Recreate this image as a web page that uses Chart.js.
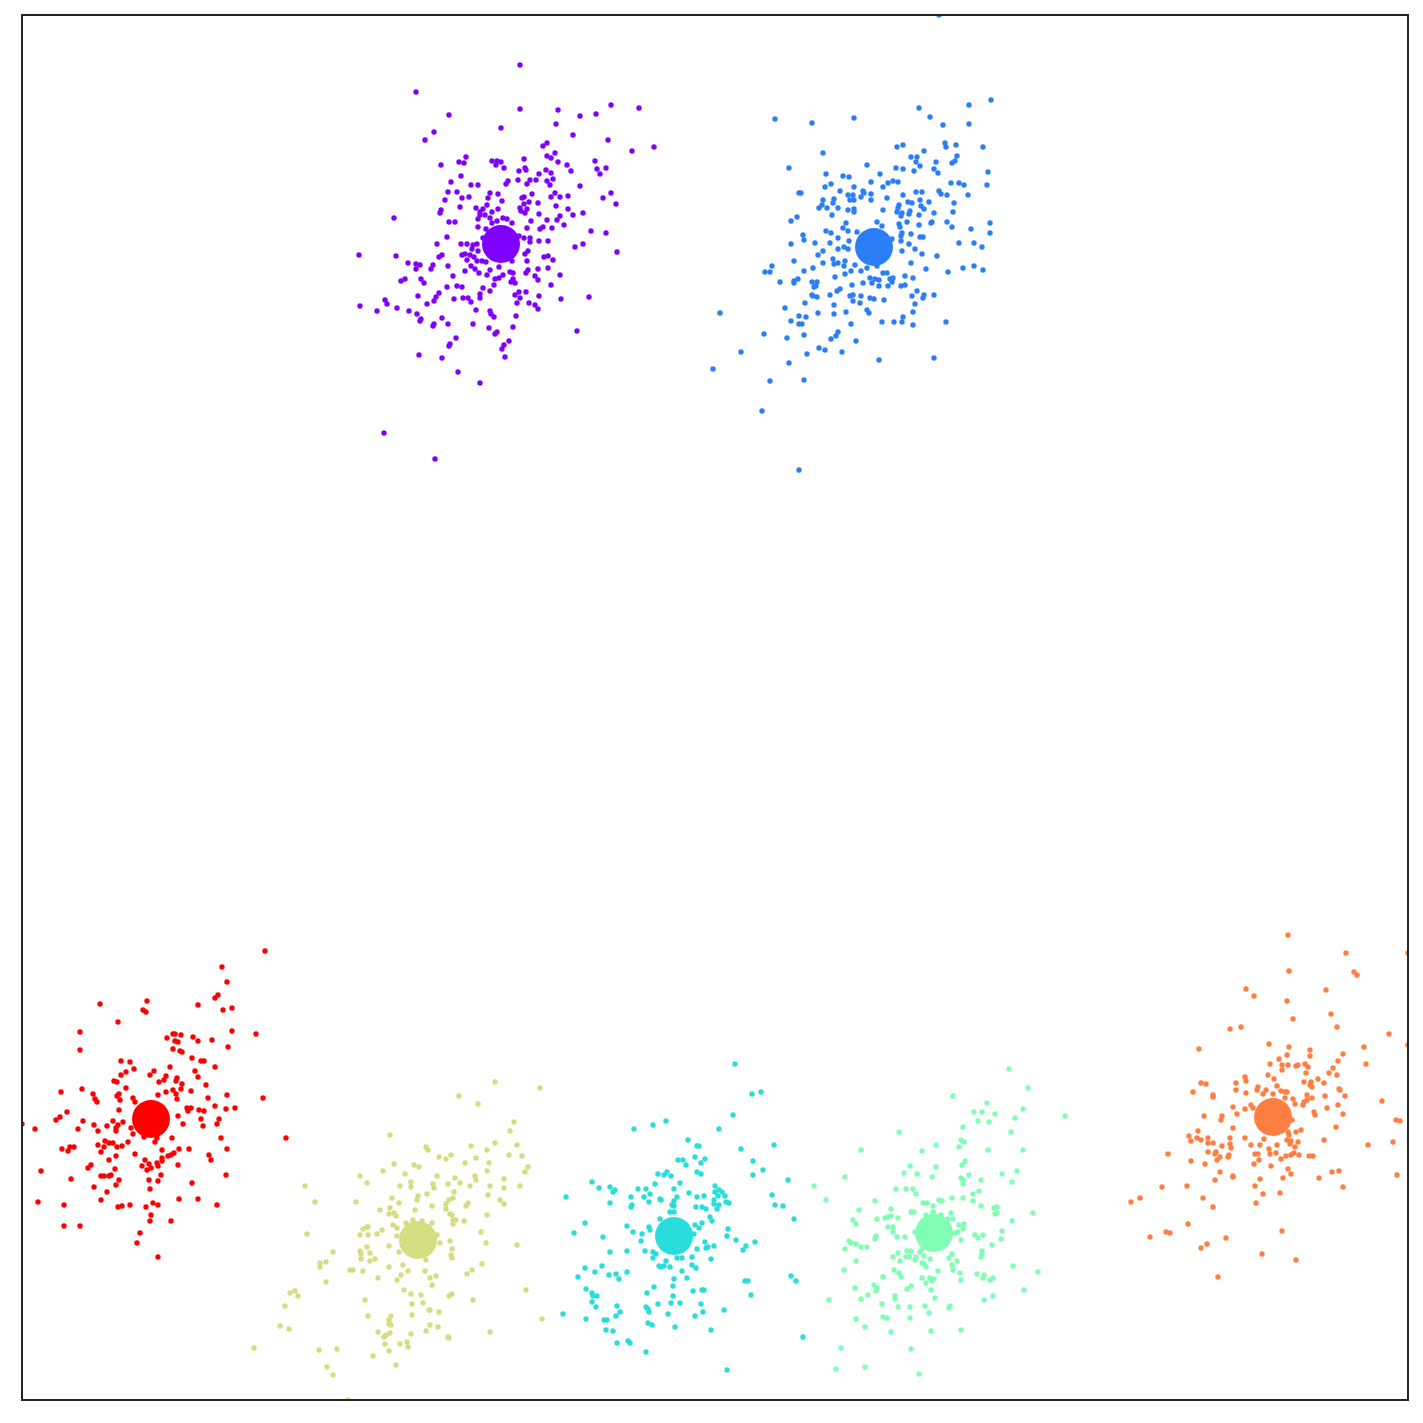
<!DOCTYPE html>
<html>
<head>
<meta charset="utf-8">
<style>
  html, body { margin: 0; padding: 0; background: #fff; }
  canvas { display: block; }
</style>
<script src="https://cdn.jsdelivr.net/npm/chart.js@4/dist/chart.umd.min.js"></script>
</head>
<body>
<canvas id="clusters" width="1423" height="1423"></canvas>
<script>
// values, one list of [x, y] per cluster
const purplePoints = [[498,1335],[394,1308],[427,1285],[412,1268],[403,1260],[498,1291],[536,1290],[558,1284],[574,1286],[589,1295],[617,1292],[534,1276],[479,1272],[551,1265],[586,1260],[632,1253],[610,1249],[525,1257],[521,1254],[533,1247],[525,1244],[529,1242],[536,1238],[545,1235],[549,1229],[573,1239],[575,1231],[584,1232],[578,1226],[419,1235],[437,1238],[442,1237],[444,1243],[470,1239],[475,1239],[479,1238],[474,1235],[482,1232],[502,1241],[497,1229],[503,1232],[504,1230],[524,1230],[517,1226],[529,1227],[531,1221],[525,1219],[528,1215],[514,1220],[508,1220],[505,1216],[496,1220],[486,1219],[484,1216],[439,1224],[429,1218],[449,1215],[456,1215],[558,1214],[426,1208],[435,1208],[440,1202],[447,1203],[423,1200],[468,1207],[476,1206],[466,1202],[480,1199],[500,1202],[502,1203],[510,1206],[529,1203],[533,1207],[538,1203],[546,1204],[589,1207],[581,1202],[594,1196],[507,1198],[502,1196],[516,1197],[534,1194],[438,1193],[465,1195],[476,1191],[498,1192],[499,1189],[505,1191],[503,1187],[546,1191],[454,1192],[461,1191],[458,1188],[419,1190],[418,1187],[470,1188],[517,1186],[551,1185],[561,1187],[372,1182],[456,1181],[458,1185],[463,1185],[468,1182],[481,1182],[485,1181],[490,1177],[475,1179],[470,1177],[427,1178],[433,1178],[509,1179],[525,1180],[538,1184],[535,1180],[542,1175],[505,1172],[518,1171],[521,1173],[530,1172],[456,1173],[464,1171],[569,1169],[584,1167],[425,1163],[461,1162],[497,1164],[502,1162],[508,1162],[508,1158],[517,1159],[526,1159],[561,1156],[553,1153],[595,1148],[415,1156],[439,1156],[445,1156],[455,1156],[451,1155],[450,1151],[456,1149],[337,1145],[374,1144],[386,1137],[394,1136],[398,1135],[394,1131],[411,1135],[409,1131],[417,1143],[420,1145],[426,1134],[440,1145],[443,1146],[448,1145],[452,1143],[445,1140],[455,1139],[460,1139],[464,1138],[449,1134],[453,1131],[443,1129],[468,1130],[457,1127],[465,1125],[431,1124],[477,1133],[490,1139],[503,1146],[506,1149],[505,1139],[522,1143],[526,1144],[531,1140],[526,1132],[516,1131],[506,1130],[504,1127],[488,1128],[491,1127],[481,1125],[477,1122],[473,1121],[491,1121],[489,1118],[493,1117],[513,1124],[516,1120],[538,1125],[529,1115],[379,1119],[383,1121],[399,1121],[402,1117],[425,1113],[435,1114],[440,1113],[461,1112],[472,1115],[468,1109],[396,1104],[417,1107],[414,1103],[412,1099],[405,1096],[432,1101],[441,1102],[446,1102],[449,1098],[458,1106],[458,1102],[493,1105],[497,1108],[504,1108],[498,1102],[495,1097],[507,1097],[517,1104],[539,1101],[567,1103],[363,1100],[365,1096],[338,1094],[355,1089],[375,1092],[387,1089],[395,1086],[399,1081],[398,1079],[420,1082],[426,1076],[412,1076],[411,1074],[454,1090],[451,1076],[468,1089],[469,1086],[472,1083],[513,1095],[516,1091],[494,1084],[491,1073],[467,1072],[475,1068],[473,1066],[555,1069],[434,1062],[428,1056],[427,1054],[487,1059],[482,1055],[480,1051],[397,1045],[420,1042],[483,1043],[436,1028],[458,1017],[362,967],[413,941]];
const bluePoints = [[917,1385],[969,1300],[947,1295],[897,1292],[908,1283],[921,1275],[947,1276],[753,1281],[790,1277],[832,1282],[801,1247],[923,1257],[924,1253],[934,1255],[961,1253],[875,1253],[881,1255],[902,1249],[889,1243],[895,1243],[894,1238],[898,1234],[914,1238],[935,1244],[933,1239],[930,1237],[767,1232],[845,1235],[874,1232],[881,1231],[892,1229],[912,1231],[916,1227],[966,1228],[804,1226],[821,1224],[827,1223],[858,1226],[849,1218],[866,1217],[871,1219],[876,1218],[861,1213],[929,1217],[937,1217],[942,1215],[965,1215],[809,1216],[803,1213],[832,1213],[818,1209],[841,1209],[842,1207],[849,1206],[777,1207],[779,1207],[826,1205],[831,1205],[839,1203],[881,1205],[894,1208],[900,1208],[917,1209],[919,1206],[925,1205],[946,1205],[865,1202],[849,1200],[828,1200],[832,1200],[801,1200],[812,1201],[811,1197],[800,1195],[797,1192],[805,1192],[816,1192],[826,1190],[832,1191],[832,1188],[861,1190],[886,1198],[890,1197],[898,1200],[907,1198],[932,1197],[877,1195],[876,1192],[899,1194],[902,1191],[875,1188],[880,1187],[879,1184],[888,1189],[887,1186],[897,1185],[912,1187],[931,1188],[810,1185],[775,1183],[769,1179],[824,1177],[855,1178],[860,1174],[885,1178],[877,1176],[878,1173],[897,1175],[909,1177],[910,1178],[925,1178],[930,1173],[968,1177],[949,1171],[968,1167],[821,1172],[826,1169],[804,1169],[809,1167],[781,1165],[782,1160],[816,1162],[835,1168],[880,1167],[889,1166],[898,1163],[901,1163],[879,1164],[879,1159],[870,1161],[769,1156],[793,1157],[808,1157],[827,1159],[887,1156],[937,1157],[952,1157],[960,1153],[822,1153],[826,1151],[816,1151],[801,1149],[796,1145],[880,1149],[893,1151],[900,1146],[915,1144],[772,1139],[811,1141],[823,1139],[801,1137],[812,1136],[816,1137],[822,1134],[833,1135],[750,1134],[743,1128],[748,1128],[791,1132],[782,1129],[829,1129],[839,1129],[845,1132],[855,1134],[889,1137],[904,1131],[926,1128],[941,1132],[952,1134],[961,1130],[861,1127],[865,1127],[823,1126],[813,1123],[848,1122],[853,1121],[857,1120],[871,1122],[868,1121],[870,1118],[883,1124],[891,1122],[758,1118],[772,1119],[772,1117],[776,1121],[790,1118],[795,1118],[794,1114],[792,1113],[841,1117],[850,1117],[830,1115],[857,1114],[866,1114],[879,1114],[883,1115],[818,1111],[815,1109],[895,1109],[790,1105],[791,1104],[795,1103],[808,1105],[828,1104],[831,1105],[839,1104],[848,1102],[852,1101],[862,1100],[890,1104],[902,1105],[901,1102],[912,1105],[831,1099],[838,1097],[783,1097],[812,1095],[893,1096],[763,1092],[698,1087],[845,1090],[847,1087],[824,1088],[796,1087],[812,1086],[891,1088],[777,1084],[784,1083],[769,1079],[777,1076],[780,1076],[829,1076],[860,1078],[872,1078],[880,1078],[881,1083],[891,1075],[924,1078],[742,1066],[765,1062],[782,1065],[816,1068],[814,1064],[809,1061],[834,1059],[797,1052],[803,1050],[820,1048],[719,1048],[785,1046],[767,1037],[857,1040],[912,1042],[691,1031],[748,1019],[782,1020],[740,989],[777,930]];
const redPoints = [[243,449],[200,433],[205,418],[196,405],[193,402],[176,395],[201,390],[210,392],[125,399],[121,390],[124,388],[78,396],[96,378],[58,368],[58,350],[210,369],[234,366],[151,366],[153,366],[159,365],[145,362],[171,363],[176,359],[190,360],[153,359],[156,358],[206,353],[151,351],[158,349],[160,348],[170,342],[179,339],[182,339],[99,339],[108,338],[112,331],[148,333],[193,333],[104,328],[99,325],[132,329],[128,325],[173,329],[176,323],[144,324],[142,320],[137,318],[155,322],[154,319],[92,319],[95,318],[160,316],[184,315],[104,312],[159,311],[151,310],[144,308],[169,309],[39,308],[60,311],[71,306],[73,301],[75,298],[97,306],[95,304],[98,300],[111,302],[113,298],[136,305],[154,306],[155,301],[186,302],[205,305],[241,302],[193,294],[204,291],[213,292],[165,292],[169,292],[166,289],[177,290],[182,289],[97,290],[45,288],[38,283],[34,280],[61,279],[156,284],[179,281],[197,281],[195,276],[161,276],[181,274],[91,279],[101,278],[72,275],[85,274],[96,275],[94,272],[94,269],[109,272],[111,266],[0,276],[13,271],[56,271],[76,269],[150,262],[199,262],[264,262],[135,262],[133,258],[122,263],[83,259],[87,257],[91,257],[106,258],[76,255],[82,253],[95,253],[100,254],[40,251],[48,253],[52,253],[46,249],[79,248],[157,251],[167,251],[205,251],[140,250],[152,247],[149,245],[146,244],[113,246],[94,244],[87,240],[187,245],[189,240],[140,242],[140,239],[123,240],[135,237],[127,236],[120,234],[136,234],[129,232],[125,230],[156,235],[69,235],[66,232],[93,231],[19,229],[79,224],[82,224],[87,224],[89,225],[204,225],[139,225],[49,221],[97,220],[127,220],[136,219],[170,217],[94,215],[72,213],[128,211],[85,208],[79,200],[157,201],[176,201],[16,198],[42,195],[131,197],[136,195],[108,195],[100,194],[96,193],[124,193],[195,195],[129,185],[128,179],[149,179],[42,174],[58,174],[118,167],[115,157],[136,143]];
const olivePoints = [[473,318],[518,312],[437,304],[456,296],[492,278],[488,269],[368,265],[473,257],[495,255],[449,254],[404,253],[406,250],[465,250],[487,245],[500,244],[417,243],[424,241],[429,245],[454,242],[443,237],[467,237],[372,236],[392,235],[397,233],[506,233],[503,228],[465,229],[361,229],[383,226],[338,224],[415,224],[453,224],[454,220],[433,222],[482,221],[345,217],[389,218],[438,217],[411,216],[426,216],[283,214],[378,214],[389,213],[412,212],[448,214],[468,214],[482,212],[498,214],[432,208],[405,206],[466,205],[396,204],[395,200],[370,202],[431,202],[427,200],[478,200],[293,198],[334,198],[377,197],[424,196],[446,197],[444,194],[482,196],[410,194],[368,192],[424,191],[358,190],[393,190],[367,186],[372,187],[374,184],[428,186],[430,185],[465,185],[391,180],[400,179],[431,180],[434,180],[442,179],[384,177],[410,177],[431,176],[371,175],[375,172],[341,171],[345,173],[346,173],[360,170],[285,166],[338,165],[346,165],[355,166],[375,164],[415,165],[459,168],[428,159],[418,157],[464,157],[495,155],[367,154],[345,153],[430,151],[338,149],[311,148],[348,147],[377,148],[339,146],[429,145],[430,142],[339,141],[353,141],[348,139],[404,140],[304,138],[298,137],[298,133],[460,136],[381,135],[367,133],[450,130],[445,126],[328,130],[331,130],[341,129],[386,129],[403,129],[379,125],[414,124],[408,122],[356,122],[375,120],[304,118],[410,115],[382,110],[273,109],[268,107],[276,104],[504,110],[389,106],[399,105],[430,106],[427,104],[343,100],[451,100],[390,96],[401,97],[263,94],[407,90],[408,90],[417,88],[346,84],[369,84],[390,85],[367,80],[367,76],[369,75],[520,81],[258,74],[267,71],[408,75],[416,73],[404,69],[356,68],[368,67],[364,65],[362,63],[389,66],[468,68],[426,63],[427,62],[363,56],[378,56],[385,58],[386,53],[367,49],[232,52],[297,50],[315,51],[351,44],[374,35],[305,33],[311,25],[326,0]];
const cyanPoints = [[713,336],[730,306],[739,308],[711,285],[644,279],[631,275],[612,271],[697,271],[666,260],[752,255],[675,254],[677,254],[719,251],[673,243],[683,241],[656,240],[661,240],[731,239],[679,237],[664,235],[741,230],[675,228],[679,226],[645,228],[636,226],[642,225],[649,224],[731,225],[766,220],[570,218],[658,217],[633,216],[577,212],[588,213],[593,210],[591,208],[616,211],[624,211],[652,211],[693,214],[693,208],[697,210],[700,208],[667,207],[628,206],[750,205],[544,203],[609,203],[622,203],[655,203],[675,203],[682,204],[696,204],[703,204],[638,201],[639,200],[627,198],[652,199],[588,197],[692,200],[704,198],[707,197],[610,195],[609,193],[650,195],[652,194],[674,193],[680,193],[684,191],[692,196],[697,195],[695,191],[753,195],[761,194],[648,188],[652,188],[688,183],[690,179],[772,181],[638,181],[563,177],[680,177],[673,175],[677,172],[605,174],[627,173],[628,170],[706,171],[552,167],[611,168],[620,166],[581,163],[705,164],[672,166],[619,159],[714,160],[733,158],[683,158],[692,154],[686,153],[684,152],[675,151],[724,154],[721,150],[588,148],[605,149],[623,149],[631,148],[634,146],[631,142],[655,142],[660,142],[670,143],[689,141],[644,139],[670,135],[674,132],[637,134],[639,133],[642,134],[648,133],[580,134],[563,132],[573,128],[605,128],[660,129],[556,123],[587,125],[594,126],[597,121],[652,121],[665,122],[769,124],[774,119],[723,119],[726,119],[632,113],[651,114],[564,111],[671,109],[680,110],[682,110],[570,107],[625,107],[571,104],[575,104],[651,104],[729,105],[570,98],[649,97],[658,97],[679,96],[636,96],[595,94],[574,93],[624,93],[626,91],[627,88],[702,90],[598,88],[681,88],[541,86],[646,86],[594,84],[673,84],[564,81],[582,80],[585,80],[626,77],[630,75],[653,73],[584,70],[591,69],[689,70],[781,63],[606,59],[608,57],[595,57],[624,48],[705,30]];
const mintPoints = [[987,331],[1006,312],[931,304],[965,297],[1001,291],[952,288],[960,288],[973,286],[1043,284],[993,282],[956,279],[967,278],[941,273],[877,268],[989,268],[939,260],[942,258],[914,255],[937,253],[839,250],[900,249],[966,250],[1001,250],[943,239],[940,235],[888,234],[914,233],[995,229],[882,227],[895,226],[980,226],[947,225],[823,223],[910,223],[939,222],[941,220],[959,220],[990,218],[941,216],[792,214],[874,211],[884,211],[891,211],[894,206],[957,209],[951,206],[930,202],[941,202],[804,200],[853,199],[917,200],[920,199],[951,199],[901,197],[905,197],[911,194],[959,194],[972,192],[975,193],[837,190],[869,191],[889,188],[892,188],[911,188],[929,187],[973,186],[975,187],[1011,187],[904,185],[919,185],[869,184],[866,183],[863,182],[876,182],[855,181],[831,180],[926,181],[931,181],[990,179],[834,176],[937,175],[942,176],[866,173],[871,173],[941,171],[980,169],[871,168],[893,168],[936,168],[933,167],[953,165],[961,165],[854,164],[875,163],[883,163],[956,162],[853,161],[979,161],[939,160],[827,159],[829,157],[834,156],[970,155],[839,153],[845,153],[823,151],[900,151],[885,149],[889,149],[898,148],[960,149],[876,147],[930,146],[960,146],[902,144],[871,143],[884,143],[887,143],[894,143],[959,143],[927,142],[908,141],[893,140],[878,139],[834,139],[935,139],[900,137],[902,136],[904,133],[930,135],[931,130],[991,134],[822,130],[872,130],[916,129],[877,127],[879,123],[938,127],[1016,128],[955,126],[962,125],[961,122],[861,123],[900,122],[908,122],[912,121],[910,119],[939,120],[968,120],[971,122],[904,117],[852,115],[855,112],[854,109],[833,112],[889,114],[885,111],[909,110],[1002,110],[846,105],[873,104],[873,101],[839,101],[807,100],[913,102],[971,104],[962,100],[860,96],[903,94],[876,93],[888,93],[928,94],[927,92],[907,87],[834,81],[861,83],[865,82],[888,82],[843,73],[869,68],[909,69],[939,70],[819,52],[889,51],[843,33],[814,31],[897,26]];
const orangePoints = [[1266,465],[1324,447],[1386,447],[1267,429],[1332,428],[1335,425],[1224,411],[1304,410],[1232,404],[1265,399],[1309,386],[1271,381],[1219,373],[1208,371],[1315,373],[1367,366],[1247,356],[1386,355],[1267,353],[1342,353],[1177,351],[1288,350],[1321,346],[1265,345],[1288,344],[1257,341],[1316,339],[1248,336],[1260,335],[1266,335],[1274,334],[1276,335],[1283,336],[1286,333],[1344,336],[1311,332],[1260,330],[1284,327],[1307,327],[1315,325],[1246,325],[1223,323],[1252,321],[1296,321],[1224,319],[1282,318],[1289,318],[1302,317],[1179,317],[1184,316],[1214,317],[1288,315],[1290,313],[1255,314],[1236,313],[1235,310],[1244,310],[1214,310],[1317,311],[1318,310],[1259,309],[1263,308],[1265,308],[1171,308],[1224,307],[1241,306],[1251,306],[1285,305],[1303,304],[1323,304],[1191,305],[1191,303],[1263,302],[1271,301],[1290,302],[1285,300],[1282,298],[1360,299],[1273,296],[1281,295],[1316,295],[1211,293],[1229,295],[1231,292],[1223,291],[1305,292],[1292,288],[1293,285],[1321,286],[1215,286],[1182,284],[1200,284],[1199,280],[1270,280],[1374,280],[1378,279],[1211,272],[1314,273],[1176,269],[1279,270],[1274,268],[1266,268],[1267,265],[1167,264],[1175,262],[1179,260],[1169,259],[1186,262],[1186,257],[1191,257],[1208,262],[1223,262],[1242,261],[1265,260],[1269,259],[1268,256],[1276,258],[1302,260],[1371,258],[1208,256],[1200,254],[1209,252],[1229,255],[1238,255],[1255,255],[1273,253],[1346,255],[1247,251],[1146,246],[1186,248],[1194,248],[1193,246],[1233,246],[1236,246],[1248,246],[1254,247],[1272,247],[1269,245],[1264,244],[1277,245],[1287,244],[1291,244],[1207,245],[1206,243],[1198,243],[1195,240],[1237,240],[1259,241],[1169,239],[1183,236],[1232,236],[1249,234],[1266,231],[1198,228],[1310,228],[1317,229],[1269,226],[1375,225],[1211,224],[1211,223],[1193,220],[1238,221],[1261,222],[1297,222],[1140,213],[1165,214],[1233,214],[1321,213],[1241,206],[1258,207],[1118,202],[1109,198],[1181,202],[1234,197],[1191,193],[1166,176],[1260,169],[1144,168],[1148,167],[1128,163],[1204,162],[1185,156],[1179,152],[1240,146],[1274,140],[1196,123]];

const clusterPoints = [purplePoints, bluePoints, cyanPoints, mintPoints, olivePoints, orangePoints, redPoints];
const clusterColors = ['#8000ff', '#2c7ef8', '#2adddd', '#80ffb4', '#d4dd80', '#ff7e41', '#ff0000'];
const centersX = [479, 852, 652, 912, 396, 1251, 129];
const centersY = [1156, 1153, 164, 167, 160, 283, 281];

const datasets = [];
clusterPoints.forEach((points, i) => {
  datasets.push({
    data: [{ x: centersX[i], y: centersY[i] }],
    backgroundColor: clusterColors[i],
    pointRadius: 19,
    pointBorderWidth: 0,
    clip: 0,
  });
  datasets.push({
    data: points.map(p => ({ x: p[0], y: p[1] })),
    backgroundColor: clusterColors[i],
    pointRadius: 2.7,
    pointBorderWidth: 0,
    clip: 0,
  });
});

// box round the plot, drawn over the points
const frame = {
  id: 'frame',
  afterDraw(chart) {
    const { ctx, chartArea: a } = chart;
    ctx.save();
    ctx.strokeStyle = '#262626';
    ctx.lineWidth = 2;
    ctx.strokeRect(a.left, a.top, a.right - a.left, a.bottom - a.top);
    ctx.restore();
  },
};

new Chart(document.getElementById('clusters'), {
  type: 'scatter',
  data: { datasets },
  options: {
    responsive: false,
    animation: false,
    layout: { autoPadding: false, padding: { left: 22, right: 15, top: 15, bottom: 23 } },
    plugins: { legend: { display: false }, tooltip: { enabled: false } },
    scales: {
      x: { type: 'linear', min: 0, max: 1386, display: false },
      y: { type: 'linear', min: 0, max: 1385, display: false },
    },
  },
  plugins: [frame],
});
</script>
</body>
</html>
